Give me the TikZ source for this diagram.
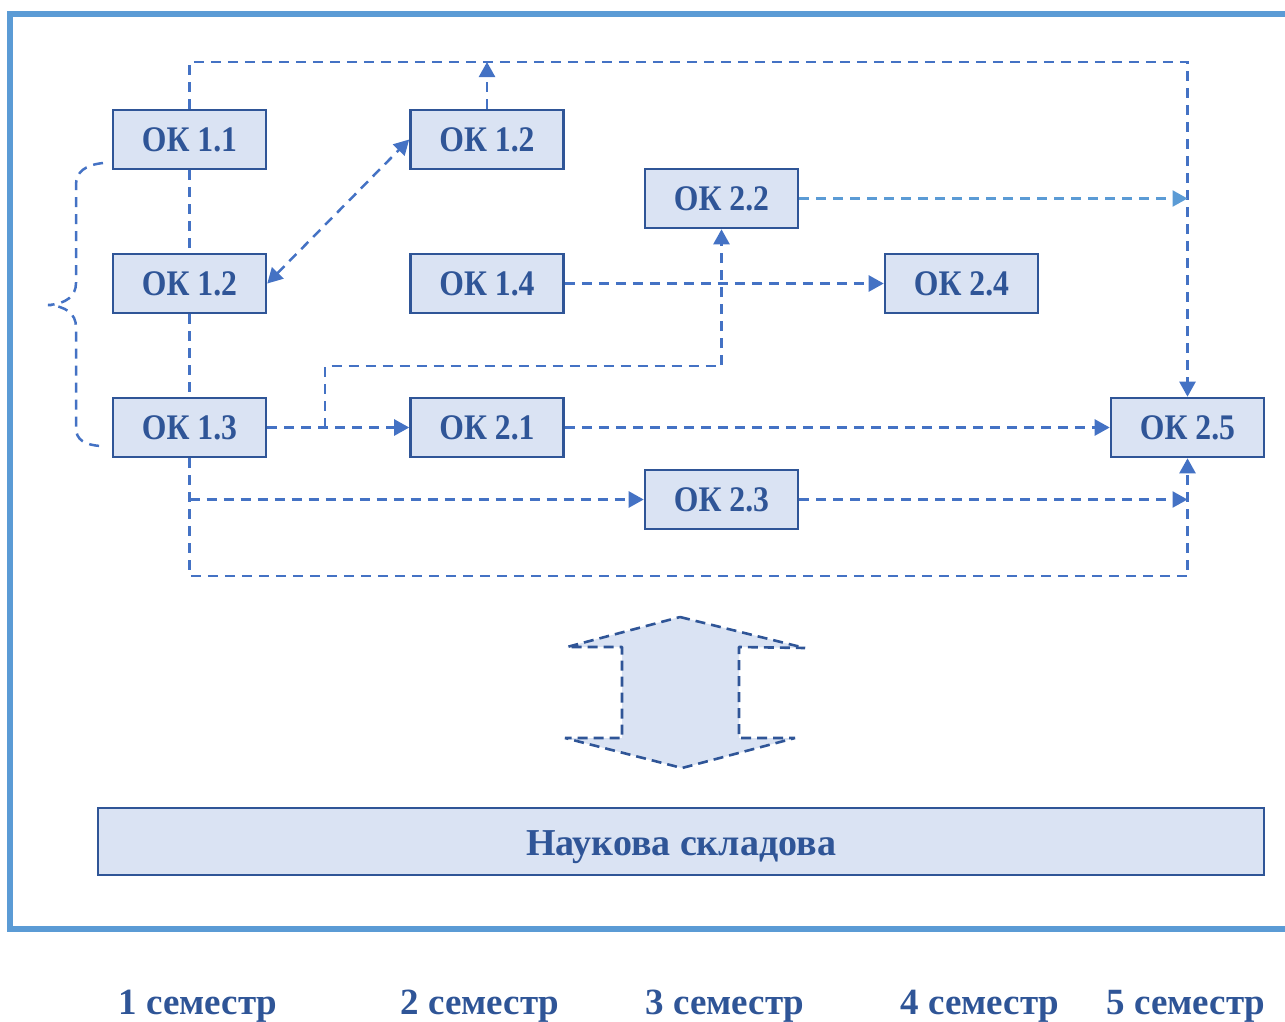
\documentclass[tikz,border=0pt]{standalone}
\usepackage{fontspec}
\setmainfont{Liberation Serif}
\newfontfamily\boxfont{Liberation Serif}[FakeStretch=0.88]
\usetikzlibrary{arrows.meta}
\definecolor{boxfill}{HTML}{DAE3F3}
\definecolor{boxline}{HTML}{2F5597}
\definecolor{conn}{HTML}{4472C4}
\definecolor{framecol}{HTML}{5B9BD5}
\begin{document}
\begin{tikzpicture}[x=1pt,y=-1pt,
  ok/.style={draw=boxline, fill=boxfill, line width=2.6pt, minimum width=153pt, minimum height=59pt, inner sep=0pt, font=\boxfont\fontsize{36}{36}\selectfont\bfseries, text=boxline},
  dl/.style={draw=conn, line width=2.5pt, dash pattern=on 10pt off 7pt},
  tip/.style={-{Triangle[length=15pt,width=16pt]}},
  dtip/.style={{Triangle[length=15pt,width=16pt]}-{Triangle[length=15pt,width=16pt]}},
  sem/.style={font=\fontsize{37}{37}\selectfont\bfseries, text=boxline, inner sep=0pt, anchor=base}]
\useasboundingbox (0,0) rectangle (1285,1021);
% frame
\draw[framecol, line width=6pt] (1310,13.5) -- (10,13.5) -- (10,929) -- (1310,929);
% boxes
\node[ok] (a11) at (189.5,139.5) {ОК 1.1};
\node[ok] (a12) at (487,139.5) {ОК 1.2};
\node[ok] (b22) at (721.5,198.5) {ОК 2.2};
\node[ok] (a12b) at (189.5,283.5) {ОК 1.2};
\node[ok] (a14) at (487,283.5) {ОК 1.4};
\node[ok] (b24) at (961.5,283.5) {ОК 2.4};
\node[ok] (a13) at (189.5,427.5) {ОК 1.3};
\node[ok] (b21) at (487,427.5) {ОК 2.1};
\node[ok] (b25) at (1187.5,427.5) {ОК 2.5};
\node[ok] (b23) at (721.5,499.5) {ОК 2.3};
\node[ok, minimum width=1166pt, minimum height=67pt, font=\fontsize{38}{38}\selectfont\bfseries] (nauk) at (681,841.5) {\raisebox{-14pt}[0pt][0pt]{Наукова складова}};
% coordinates
\coordinate (t1) at (189.5,62);
\coordinate (t2) at (1187.5,62);
\coordinate (t12) at (487,62);
\coordinate (r22) at (1187.5,198.5);
\coordinate (j1) at (325,427.5);
\coordinate (j2) at (325,366);
\coordinate (j3) at (721.5,366);
\coordinate (d1) at (189.5,576);
\coordinate (d2) at (1187.5,576);
\coordinate (j4) at (189.5,499.5);
\coordinate (r23) at (1187.5,499.5);
% connectors
\draw[dl,tip] (a11.north) -- (t1) -- (t2) -- (b25.north);
\draw[dl,tip] (a12.north) -- (t12);
\draw[dl,tip,draw=framecol] (b22.east) -- (r22);
\draw[dl] (a11.south) -- (a12b.north);
\draw[dl] (a12b.south) -- (a13.north);
\draw[dl,dtip] (a12b.east) -- (a12.west);
\draw[dl,tip] (a14.east) -- (b24.west);
\draw[dl,tip] (a13.east) -- (b21.west);
\draw[dl,tip] (j1) -- (j2) -- (j3) -- (b22.south);
\draw[dl,tip] (b21.east) -- (b25.west);
\draw[dl,tip] (a13.south) -- (d1) -- (d2) -- (b25.south);
\draw[dl,tip] (j4) -- (b23.west);
\draw[dl,tip] (b23.east) -- (r23);
% brace
\draw[dl] (103,163) .. controls (85,165) and (76,172) .. (76,185) -- (76,283)
  .. controls (76,296) and (66,304) .. (48,305)
  .. controls (66,306) and (76,314) .. (76,327) -- (76,428)
  .. controls (76,440) and (85,445) .. (101,446);
% double arrow
\draw[draw=boxline, fill=boxfill, line width=2.6pt, line join=bevel, dash pattern=on 10pt off 6pt]
  (680,617) -- (805,648) -- (739,647) -- (739,738) -- (795,738) -- (682,768)
  -- (565,738) -- (622,738) -- (622,647) -- (567,647) -- cycle;
% semesters
\node[sem] (s1) at (198,1014) {1 семестр};
\node[sem] (s2) at (480,1014) {2 семестр};
\node[sem] (s3) at (725,1014) {3 семестр};
\node[sem] (s4) at (980,1014) {4 семестр};
\node[sem] (s5) at (1186,1014) {5 семестр};
\end{tikzpicture}
\end{document}
